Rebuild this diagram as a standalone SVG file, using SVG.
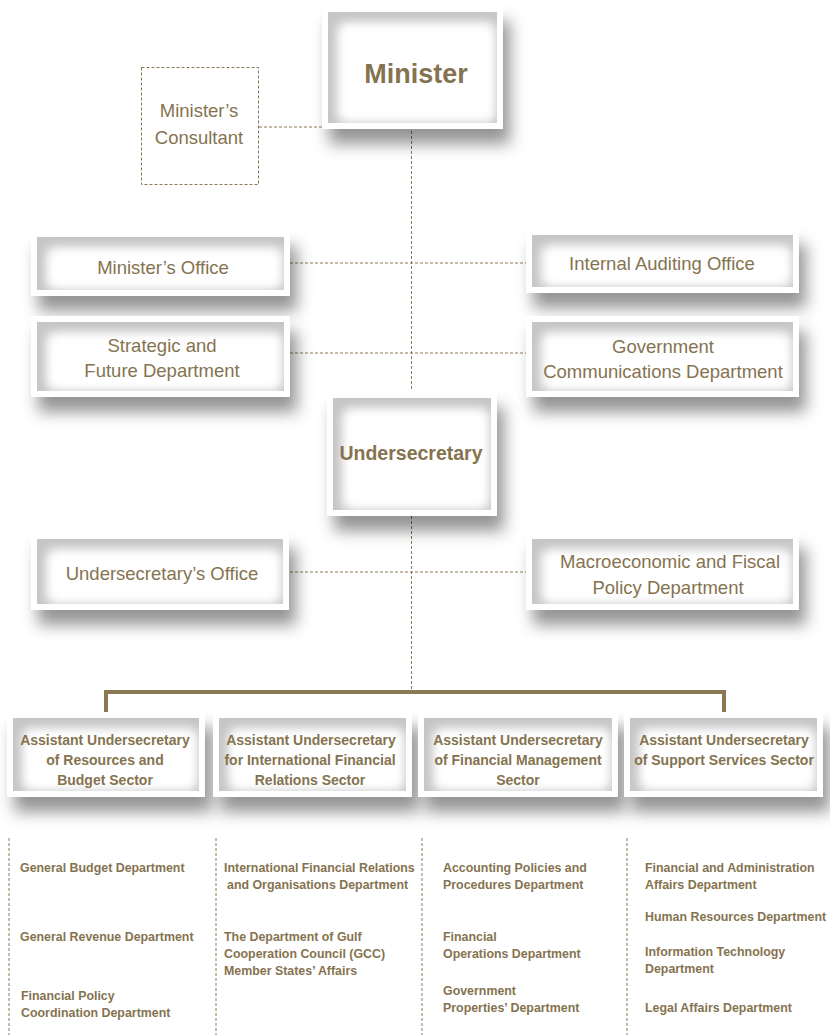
<svg xmlns="http://www.w3.org/2000/svg" width="830" height="1035" viewBox="0 0 830 1035">
  <defs>
    <!-- raised card: soft drop shadow, white frame, grey inner glow fading to a white core -->
    <filter id="card" x="-12%" y="-20%" width="135%" height="190%" color-interpolation-filters="sRGB">
      <feOffset in="SourceAlpha" dx="7" dy="15" result="off"/>
      <feGaussianBlur in="off" stdDeviation="8" result="offBlur"/>
      <feFlood flood-color="#000" flood-opacity="0.42"/>
      <feComposite in2="offBlur" operator="in" result="shadow"/>
      <feMorphology in="SourceAlpha" operator="erode" radius="6" result="inner"/>
      <feFlood flood-color="#c6c6c6"/>
      <feComposite in2="inner" operator="in" result="greyInner"/>
      <feMorphology in="SourceAlpha" operator="erode" radius="14" result="core"/>
      <feOffset in="core" dx="4" dy="5" result="coreOff"/>
      <feGaussianBlur in="coreOff" stdDeviation="6" result="coreBlur"/>
      <feFlood flood-color="#fff"/>
      <feComposite in2="coreBlur" operator="in" result="whiteCore"/>
      <feComposite in="whiteCore" in2="inner" operator="in" result="whiteInner"/>
      <feMerge>
        <feMergeNode in="shadow"/>
        <feMergeNode in="SourceGraphic"/>
        <feMergeNode in="greyInner"/>
        <feMergeNode in="whiteInner"/>
        <feMergeNode in="whiteInner"/>
      </feMerge>
    </filter>
  </defs>
  <style>
    .card { fill: #ffffff; filter: url(#card); }
    .dash { fill: none; stroke: #8a7852; stroke-width: 1; stroke-dasharray: 3 2; }
    .bar { fill: none; stroke: #8a7852; stroke-width: 4; }
    text { font-family: "Liberation Sans", Arial, sans-serif; fill: #857350; }
    .lbl { font-size: 18.5px; text-anchor: middle; }
    .head { font-weight: bold; text-anchor: middle; }
    .sec { font-size: 14px; font-weight: bold; text-anchor: middle; }
    .dep { font-size: 12.4px; font-weight: bold; }
  </style>

  <rect width="830" height="1035" fill="#ffffff"/>

  <!-- connectors -->
  <g id="connectors">
    <line class="dash" x1="259" y1="127" x2="322" y2="127"/>
    <line class="dash" x1="411.5" y1="131" x2="411.5" y2="391"/>
    <line class="dash" x1="290" y1="263" x2="526" y2="263"/>
    <line class="dash" x1="290" y1="353" x2="526" y2="353"/>
    <line class="dash" x1="411.5" y1="516" x2="411.5" y2="690"/>
    <line class="dash" x1="290" y1="572" x2="526" y2="572"/>
    <polyline class="bar" points="106,713 106,692 724,692 724,713"/>
    <line class="dash" x1="9" y1="838" x2="9" y2="1035"/>
    <line class="dash" x1="216" y1="838" x2="216" y2="1035"/>
    <line class="dash" x1="422" y1="838" x2="422" y2="1035"/>
    <line class="dash" x1="627" y1="838" x2="627" y2="1035"/>
  </g>

  <g id="minister">
    <rect class="card" x="322" y="6" width="181" height="123"/>
    <text class="head" x="416" y="83" font-size="27">Minister</text>
  </g>

  <g id="ministers-consultant">
    <rect class="dash" x="141.5" y="67.5" width="117" height="117" fill="#ffffff"/>
    <text class="lbl" x="199" y="116.5">Minister’s</text>
    <text class="lbl" x="199" y="143.5">Consultant</text>
  </g>

  <g id="ministers-office">
    <rect class="card" x="31" y="231" width="259" height="65"/>
    <text class="lbl" x="163" y="274">Minister’s Office</text>
  </g>

  <g id="strategic-future">
    <rect class="card" x="31" y="316" width="259" height="81"/>
    <text class="lbl" x="162" y="351.5">Strategic and</text>
    <text class="lbl" x="162" y="376.5">Future Department</text>
  </g>

  <g id="internal-auditing">
    <rect class="card" x="526" y="229" width="273" height="64"/>
    <text class="lbl" x="662" y="269.5">Internal Auditing Office</text>
  </g>

  <g id="government-communications">
    <rect class="card" x="526" y="316" width="273" height="81"/>
    <text class="lbl" x="663" y="352.5">Government</text>
    <text class="lbl" x="663" y="377.5">Communications Department</text>
  </g>

  <g id="undersecretary">
    <rect class="card" x="327" y="392" width="170" height="124"/>
    <text class="head" x="411" y="460" font-size="19.5">Undersecretary</text>
  </g>

  <g id="undersecretarys-office">
    <rect class="card" x="31" y="533" width="258" height="77"/>
    <text class="lbl" x="162" y="579.5">Undersecretary’s Office</text>
  </g>

  <g id="macroeconomic-fiscal">
    <rect class="card" x="526" y="533" width="273" height="77"/>
    <text class="lbl" x="670" y="567.5">Macroeconomic and Fiscal</text>
    <text class="lbl" x="668" y="593.5">Policy Department</text>
  </g>

  <g id="resources-budget-sector">
    <rect class="card" x="7" y="712" width="198" height="85"/>
    <text class="sec" x="105" y="745">Assistant Undersecretary</text>
    <text class="sec" x="105" y="765">of Resources and</text>
    <text class="sec" x="105" y="785">Budget Sector</text>
  </g>

  <g id="international-relations-sector">
    <rect class="card" x="213" y="712" width="199" height="85"/>
    <text class="sec" x="311" y="745">Assistant Undersecretary</text>
    <text class="sec" x="310" y="765">for International Financial</text>
    <text class="sec" x="310" y="785">Relations Sector</text>
  </g>

  <g id="financial-management-sector">
    <rect class="card" x="418" y="712" width="200" height="85"/>
    <text class="sec" x="518" y="745">Assistant Undersecretary</text>
    <text class="sec" x="518" y="765">of Financial Management</text>
    <text class="sec" x="518" y="785">Sector</text>
  </g>

  <g id="support-services-sector">
    <rect class="card" x="624" y="712" width="199" height="85"/>
    <text class="sec" x="724" y="745">Assistant Undersecretary</text>
    <text class="sec" x="724" y="765">of Support Services Sector</text>
  </g>

  <g id="resources-budget-departments">
    <text class="dep" x="20" y="871.5">General Budget Department</text>
    <text class="dep" x="20" y="940.5">General Revenue Department</text>
    <text class="dep" x="21" y="999.5">Financial Policy</text>
    <text class="dep" x="21" y="1016.5">Coordination Department</text>
  </g>

  <g id="international-relations-departments">
    <text class="dep" x="224" y="871.5">International Financial Relations</text>
    <text class="dep" x="227" y="888.5">and Organisations Department</text>
    <text class="dep" x="224" y="940.5">The Department of Gulf</text>
    <text class="dep" x="224" y="957.5">Cooperation Council (GCC)</text>
    <text class="dep" x="224" y="974.5">Member States’ Affairs</text>
  </g>

  <g id="financial-management-departments">
    <text class="dep" x="443" y="871.5">Accounting Policies and</text>
    <text class="dep" x="443" y="888.5">Procedures Department</text>
    <text class="dep" x="443" y="940.5">Financial</text>
    <text class="dep" x="443" y="957.5">Operations Department</text>
    <text class="dep" x="443" y="994.5">Government</text>
    <text class="dep" x="443" y="1011.5">Properties’ Department</text>
  </g>

  <g id="support-services-departments">
    <text class="dep" x="645" y="871.5">Financial and Administration</text>
    <text class="dep" x="645" y="888.5">Affairs Department</text>
    <text class="dep" x="645" y="920.5">Human Resources Department</text>
    <text class="dep" x="645" y="955.5">Information Technology</text>
    <text class="dep" x="645" y="972.5">Department</text>
    <text class="dep" x="645" y="1011.5">Legal Affairs Department</text>
  </g>
</svg>
